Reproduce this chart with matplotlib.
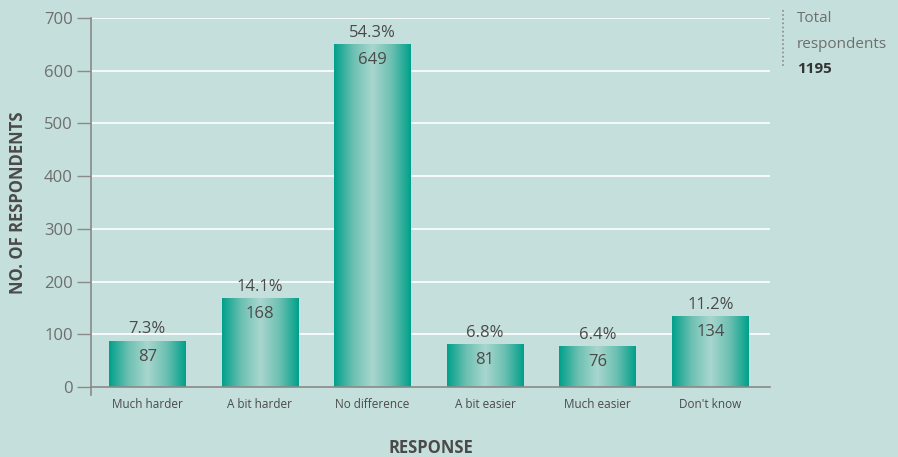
import numpy as np
import matplotlib.pyplot as plt
from matplotlib.colors import LinearSegmentedColormap

# survey responses
categories = ["Much harder", "A bit harder", "No difference", "A bit easier", "Much easier", "Don't know"]
counts = [87, 168, 649, 81, 76, 134]
percents = ["7.3%", "14.1%", "54.3%", "6.8%", "6.4%", "11.2%"]
total = 1195

bg = "#c5e0dc"
text_col = "#4a4a4a"
tick_col = "#6e6e6e"
axis_col = "#8a8a8a"

plt.rcParams['font.family'] = ['Open Sans', 'DejaVu Sans']

fig = plt.figure(figsize=(8.98, 4.57), dpi=100, facecolor=bg)
ax = fig.add_axes([0.1013, 0.1532, 0.7562, 0.8074], facecolor=bg)

# teal -> pale -> teal gradient across each bar
cmap = LinearSegmentedColormap.from_list("bar", ["#00a08a", "#6cc0b2", "#a9d6ce", "#6cc0b2", "#00a08a"])
grad = np.linspace(0, 1, 256).reshape(1, -1)

width = 0.68
x = np.arange(len(categories))

for v in range(100, 701, 100):
    ax.axhline(v, color="white", lw=1.2, zorder=1)

for xi, c, p in zip(x, counts, percents):
    ax.imshow(grad, cmap=cmap, aspect="auto", extent=(xi - width / 2, xi + width / 2, 0, c), zorder=2)
    ax.text(xi, c + 7, p, ha="center", va="bottom", fontsize=12, color=text_col, zorder=3)
    ax.text(xi, c - 14, str(c), ha="center", va="top", fontsize=12, color=text_col, zorder=3)

ax.set_xlim(-0.5, 5.53)
ax.set_ylim(0, 700)

for s in ["top", "right"]:
    ax.spines[s].set_visible(False)
ax.spines["left"].set_color(axis_col)
ax.spines["bottom"].set_color(axis_col)
ax.spines["left"].set_linewidth(1.2)
ax.spines["bottom"].set_linewidth(1.2)
ax.plot([0, 0], [0, -0.022], transform=ax.transAxes, color=axis_col, lw=1.2, clip_on=False)

ax.set_yticks(range(0, 701, 100))
ax.tick_params(axis="y", length=10, width=1, color=axis_col, labelcolor=tick_col, labelsize=12, pad=3)
ax.set_xticks(x)
ax.set_xticklabels(categories)
ax.tick_params(axis="x", length=0, labelcolor=text_col, labelsize=8.5, pad=8)

ax.set_ylabel("NO. OF RESPONDENTS", fontsize=12, fontweight="bold", color=text_col, labelpad=12)
ax.set_xlabel("RESPONSE", fontsize=12, fontweight="bold", color=text_col, labelpad=20)

# total respondents note
fig.add_artist(plt.Line2D([783 / 898, 783 / 898], [1 - 10 / 457, 1 - 66 / 457], color="#8a8a8a",
                          lw=1.2, linestyle=(0, (1, 1.5))))
fig.text(797 / 898, 1 - 19 / 457, "Total", fontsize=11, color=tick_col, va="center")
fig.text(797 / 898, 1 - 44 / 457, "respondents", fontsize=11, color=tick_col, va="center")
fig.text(797 / 898, 1 - 69 / 457, str(total), fontsize=11, color="#333333", fontweight="bold", va="center")

fig.savefig("out.png", dpi=100, facecolor=bg)
